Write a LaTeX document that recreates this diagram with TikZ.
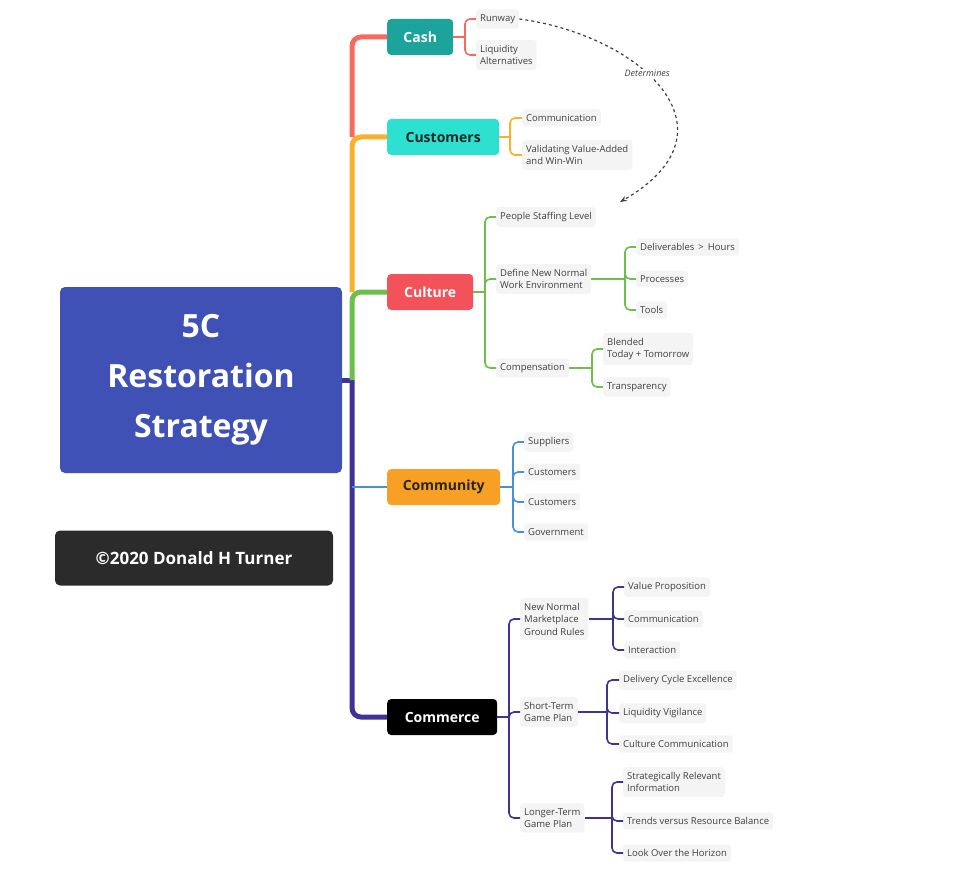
\documentclass[tikz,border=0pt]{standalone}
\usepackage{fontspec}
\setmainfont{Open Sans}
\usetikzlibrary{arrows.meta}
\definecolor{cmain}{HTML}{3F51B5}
\definecolor{ccash}{HTML}{1BA39C}
\definecolor{ccust}{HTML}{2EE0CF}
\definecolor{ccult}{HTML}{F4525A}
\definecolor{ccomm}{HTML}{F7A024}
\definecolor{lred}{HTML}{F86A60}
\definecolor{lorange}{HTML}{FBB02C}
\definecolor{lgreen}{HTML}{6CBF4A}
\definecolor{lblue}{HTML}{4A8FDD}
\definecolor{lpurple}{HTML}{3F3394}
\definecolor{leafbg}{HTML}{F4F4F4}
\begin{document}
\begin{tikzpicture}[x=1pt,y=-1pt,
 main/.style={rounded corners=4pt,minimum height=36pt,anchor=west,inner xsep=6pt,font=\fontsize{14}{16}\selectfont\bfseries},
 leaf/.style={fill=leafbg,rounded corners=3pt,anchor=west,align=left,inner xsep=4pt,inner ysep=5pt,text=black!75,font=\fontsize{9.5}{12.5}\selectfont},
 sp/.style={line width=5pt,rounded corners=9pt},
 br/.style={line width=1.6pt,rounded corners=5pt}]
\useasboundingbox (0,0) rectangle (965,869);
\node[fill=cmain,rounded corners=5pt,minimum width=282pt,minimum height=186pt,text=white,align=center,font=\fontsize{32}{50}\selectfont\bfseries] (root) at (201,380) {5C\\Restoration\\Strategy};
\node[fill=black!83,rounded corners=5pt,minimum width=278pt,minimum height=55pt,text=white,font=\fontsize{17}{20}\selectfont\bfseries] (copy) at (194,558) {©2020 Donald H Turner};
\node[main,fill=ccash,text=white,minimum width=66pt] (cash) at (387,37) {Cash};
\node[main,fill=ccust,text=black!85,minimum width=112pt] (cust) at (387,137) {Customers};
\node[main,fill=ccult,text=white,minimum width=86pt] (cult) at (387,292) {Culture};
\node[main,fill=ccomm,text=black!85,minimum width=113pt] (comm) at (387,487) {Community};
\node[main,fill=black,text=white,minimum width=110pt] (come) at (387,717) {Commerce};
\coordinate (s0) at (352,380);
\coordinate (s1) at (352,292);
\coordinate (s2) at (352,137);
\coordinate (s3) at (352,487);
\draw[sp,lpurple] (root.east) -- (s0);
\draw[sp,lpurple] (s0) |- (come.west);
\draw[sp,lgreen] (s0) |- (cult.west);
\draw[sp,lorange] (s1) |- (cust.west);
\draw[sp,lred] (s2) |- (cash.west);
\draw[line width=2.5pt,lblue] (s3) -- (comm.west);
% leaves
\node[leaf] (runway) at (476,19) {Runway};
\node[leaf] (liq) at (476,55) {Liquidity\\Alternatives};
\node[leaf] (ccomm) at (522,118) {Communication};
\node[leaf] (val) at (522,155) {Validating Value-Added\\and Win-Win};
\node[leaf] (staff) at (496,217) {People Staffing Level};
\node[leaf] (def) at (496,279) {Define New Normal\\Work Environment};
\node[leaf] (comp) at (496,368) {Compensation};
\node[leaf] (deliv) at (636,247) {Deliverables \,>\, Hours};
\node[leaf] (proc) at (636,279) {Processes};
\node[leaf] (tools) at (636,310) {Tools};
\node[leaf] (blend) at (603,349) {Blended\\Today + Tomorrow};
\node[leaf] (transp) at (603,387) {Transparency};
\node[leaf] (supp) at (524,442) {Suppliers};
\node[leaf] (cu1) at (524,472) {Customers};
\node[leaf] (cu2) at (524,502) {Customers};
\node[leaf] (gov) at (524,532) {Government};
\node[leaf] (nn) at (520,619) {New Normal\\Marketplace\\Ground Rules};
\node[leaf] (st) at (520,712) {Short-Term\\Game Plan};
\node[leaf] (lt) at (520,818) {Longer-Term\\Game Plan};
\node[leaf] (vp) at (624,587) {Value Proposition};
\node[leaf] (cm2) at (624,619) {Communication};
\node[leaf] (inter) at (624,650) {Interaction};
\node[leaf] (dce) at (619,680) {Delivery Cycle Excellence};
\node[leaf] (lv) at (619,713) {Liquidity Vigilance};
\node[leaf] (cc) at (619,744) {Culture Communication};
\node[leaf] (sri) at (623,782) {Strategically Relevant\\Information};
\node[leaf] (trb) at (623,821) {Trends versus Resource Balance};
\node[leaf] (loh) at (623,853) {Look Over the Horizon};
% brackets
\newcommand{\brk}[4]{\coordinate (#1b) at (#3,0); \draw[br,#2] (#1.east) -- (#1.east -| #1b);
 \foreach \c in {#4} {\draw[br,#2] (#1.east -| #1b) |- (\c.west);}}
\brk{cash}{lred}{465}{runway,liq}
\brk{cust}{lorange}{510}{ccomm,val}
\brk{cult}{lgreen}{485}{staff,def,comp}
\brk{def}{lgreen}{625}{deliv,proc,tools}
\brk{comp}{lgreen}{592}{blend,transp}
\brk{comm}{lblue}{513}{supp,cu1,cu2,gov}
\brk{come}{lpurple}{509}{nn,st,lt}
\brk{nn}{lpurple}{613}{vp,cm2,inter}
\brk{st}{lpurple}{607}{dce,lv,cc}
\brk{lt}{lpurple}{612}{sri,trb,loh}
% dashed arrow
\draw[dashed,line width=1.2pt,black!75,-{Stealth[length=7pt]}] (runway.east) .. controls (640,35) and (745,130) .. (620,202)
 node[pos=0.42,fill=white,inner sep=1pt,font=\fontsize{9}{10}\selectfont\itshape,text=black!75] (det) {Determines};
\end{tikzpicture}
\end{document}
